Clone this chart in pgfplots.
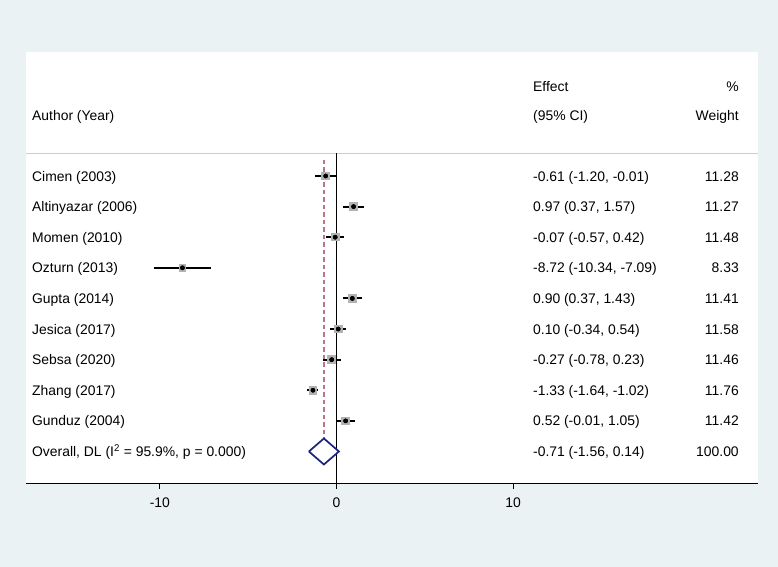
\documentclass[border=0pt]{standalone}
\usepackage{pgfplots}
\usepackage{pgfplotstable}
\usepackage{fontspec}
\setmainfont{Liberation Sans}
\pgfplotsset{compat=1.18}
\definecolor{bgc}{RGB}{234,242,243}
\definecolor{sepc}{RGB}{205,205,205}
\definecolor{dashc}{RGB}{186,118,130}
\definecolor{diamc}{RGB}{28,34,125}
\definecolor{sqgray}{RGB}{178,178,178}
\tikzset{lbl/.style={font=\fontsize{13.9bp}{16bp}\selectfont, inner sep=0pt, yshift=-2.5bp}}
\pgfplotstableread{
r e lo hi w
1 -0.61 -1.20 -0.01 11.28
2 0.97 0.37 1.57 11.27
3 -0.07 -0.57 0.42 11.48
4 -8.72 -10.34 -7.09 8.33
5 0.90 0.37 1.43 11.41
6 0.10 -0.34 0.54 11.58
7 -0.27 -0.78 0.23 11.46
8 -1.33 -1.64 -1.02 11.76
9 0.52 -0.01 1.05 11.42
}\studies
\begin{document}
\begin{tikzpicture}
\fill[bgc] (0,0) rectangle (778bp,567bp);
\begin{axis}[
  at={(25.8bp,84bp)}, anchor=south west,
  scale only axis, width=732.2bp, height=431.3bp,
  xmin=-17.59, xmax=23.87, ymin=-3.06, ymax=11.03, y dir=reverse,
  axis x line=bottom, axis y line=none,
  axis line style={-, black, line width=1bp},
  axis background/.style={fill=white},
  xtick={-10,0,10}, xticklabels={-10,0,10},
  tick align=outside, major tick length=6bp,
  tick style={black, line width=1bp},
  ytick=\empty,
  xticklabel style={font=\fontsize{13.9bp}{16bp}\selectfont, yshift=-5bp},
  clip=false,
]
% separator line
\addplot[sepc, line width=1bp] coordinates {(-17.59,0.25) (23.87,0.25)};
% null line
\addplot[black, line width=1.1bp] coordinates {(0,0.25) (0,11.03)};
% overall dashed line
\addplot[dashc, line width=1.4bp, dash pattern=on 4.5bp off 3bp] coordinates {(-0.71,0.47) (-0.71,10.44)};
% weight squares (side proportional to sqrt of weight)
\addplot[sqgray, scatter, only marks, mark=square*,
  mark options={draw=sqgray, fill=sqgray, line width=0pt},
  visualization depends on={1.12*sqrt(\thisrow{w}) \as \msize},
  scatter/@pre marker code/.code={\scope[mark size=\msize bp, draw=sqgray, fill=sqgray, line width=0pt]},
  scatter/@post marker code/.code={\endscope}]
  table[x=e, y=r] {\studies};
% confidence intervals
\addplot[only marks, mark=none,
  error bars/.cd, x dir=both, x explicit, error mark=none,
  error bar style={draw=black, solid, line width=2.1bp}]
  table[x=e, y=r, x error plus expr=\thisrow{hi}-\thisrow{e}, x error minus expr=\thisrow{e}-\thisrow{lo}] {\studies};
% point estimates
\addplot[only marks, mark=*, mark size=2.1bp, black] table[x=e, y=r] {\studies};
% overall diamond
\addplot[diamc, line width=1.7bp, fill=white] coordinates {(-1.56,10) (-0.71,9.575) (0.14,10) (-0.71,10.425) (-1.56,10)};
% headers
\node[lbl, anchor=mid west] at (axis cs:11.13,-1.94) {Effect};
\node[lbl, anchor=mid east] at (axis cs:22.79,-1.94) {\%};
\node[lbl, anchor=mid west] at (axis cs:-17.24,-0.99) {Author (Year)};
\node[lbl, anchor=mid west] at (axis cs:11.13,-0.99) {(95\% CI)};
\node[lbl, anchor=mid east] at (axis cs:22.79,-0.99) {Weight};
% study labels
\node[lbl, anchor=mid west] at (axis cs:-17.24,1) {Cimen (2003)};
\node[lbl, anchor=mid west] at (axis cs:-17.24,2) {Altinyazar (2006)};
\node[lbl, anchor=mid west] at (axis cs:-17.24,3) {Momen (2010)};
\node[lbl, anchor=mid west] at (axis cs:-17.24,4) {Ozturn (2013)};
\node[lbl, anchor=mid west] at (axis cs:-17.24,5) {Gupta (2014)};
\node[lbl, anchor=mid west] at (axis cs:-17.24,6) {Jesica (2017)};
\node[lbl, anchor=mid west] at (axis cs:-17.24,7) {Sebsa (2020)};
\node[lbl, anchor=mid west] at (axis cs:-17.24,8) {Zhang (2017)};
\node[lbl, anchor=mid west] at (axis cs:-17.24,9) {Gunduz (2004)};
\node[lbl, anchor=mid west] at (axis cs:-17.24,10) {Overall, DL (I\textsuperscript{2} = 95.9\%, p = 0.000)};
% effects
\node[lbl, anchor=mid west] at (axis cs:11.13,1) {-0.61 (-1.20, -0.01)};
\node[lbl, anchor=mid west] at (axis cs:11.13,2) {0.97 (0.37, 1.57)};
\node[lbl, anchor=mid west] at (axis cs:11.13,3) {-0.07 (-0.57, 0.42)};
\node[lbl, anchor=mid west] at (axis cs:11.13,4) {-8.72 (-10.34, -7.09)};
\node[lbl, anchor=mid west] at (axis cs:11.13,5) {0.90 (0.37, 1.43)};
\node[lbl, anchor=mid west] at (axis cs:11.13,6) {0.10 (-0.34, 0.54)};
\node[lbl, anchor=mid west] at (axis cs:11.13,7) {-0.27 (-0.78, 0.23)};
\node[lbl, anchor=mid west] at (axis cs:11.13,8) {-1.33 (-1.64, -1.02)};
\node[lbl, anchor=mid west] at (axis cs:11.13,9) {0.52 (-0.01, 1.05)};
\node[lbl, anchor=mid west] at (axis cs:11.13,10) {-0.71 (-1.56, 0.14)};
% weights
\node[lbl, anchor=mid east] at (axis cs:22.79,1) {11.28};
\node[lbl, anchor=mid east] at (axis cs:22.79,2) {11.27};
\node[lbl, anchor=mid east] at (axis cs:22.79,3) {11.48};
\node[lbl, anchor=mid east] at (axis cs:22.79,4) {8.33};
\node[lbl, anchor=mid east] at (axis cs:22.79,5) {11.41};
\node[lbl, anchor=mid east] at (axis cs:22.79,6) {11.58};
\node[lbl, anchor=mid east] at (axis cs:22.79,7) {11.46};
\node[lbl, anchor=mid east] at (axis cs:22.79,8) {11.76};
\node[lbl, anchor=mid east] at (axis cs:22.79,9) {11.42};
\node[lbl, anchor=mid east] at (axis cs:22.79,10) {100.00};
\end{axis}
\end{tikzpicture}
\end{document}
